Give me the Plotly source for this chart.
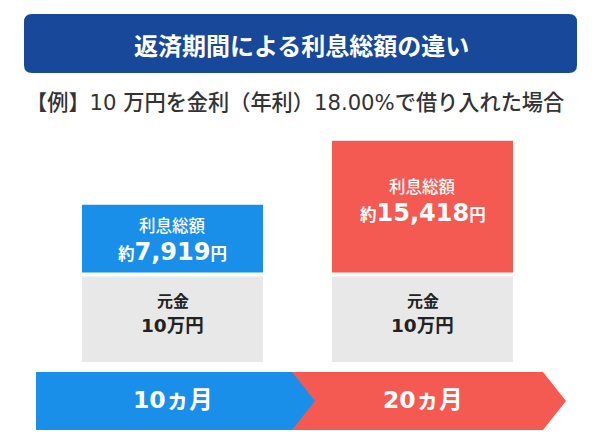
import plotly.graph_objects as go

# ---- data ----
cases = ["10ヵ月", "20ヵ月"]
interest_yen = [7919, 15418]          # 利息総額
interest_labels = ["7,919", "15,418"]
principal_label = "10万円"            # 元金
principal_display = [10000, 10000]    # illustrative height of the principal block
title_text = "返済期間による利息総額の違い"
subtitle_text = "【例】10 万円を金利（年利）18.00%で借り入れた場合"

# ---- style ----
W, H = 600, 436
FONT = "Noto Sans CJK JP"
MIX = "DejaVu Sans, Noto Sans CJK JP"
BANNER = "#17489a"
BLUE = "#1a8fea"
RED = "#f55a52"
GRAY = "#e8e8e8"
DARK = "#222222"
colors = [BLUE, RED]

YEN_PER_PX = 117
ZERO_PX = 362
GAP = 4 * YEN_PER_PX

def X(px):
    return px / W

def Y(py):
    return 1 - py / H

fig = go.Figure()
xs = list(range(len(cases)))
bar_w = 181 / 250

fig.add_trace(go.Bar(x=xs, y=principal_display, base=[0] * len(xs), width=bar_w,
                     marker=dict(color=GRAY, line=dict(width=0)), hoverinfo="skip"))
bases = [p + GAP for p in principal_display]
fig.add_trace(go.Bar(x=xs, y=interest_yen, base=bases, width=bar_w,
                     marker=dict(color=colors, line=dict(width=0)), hoverinfo="skip"))

shapes = []
# banner
x0, x1, y0, y1, r = 24, 577, 14, 73, 8
path = (f"M {X(x0+r)},{Y(y0)} L {X(x1-r)},{Y(y0)} Q {X(x1)},{Y(y0)} {X(x1)},{Y(y0+r)} "
        f"L {X(x1)},{Y(y1-r)} Q {X(x1)},{Y(y1)} {X(x1-r)},{Y(y1)} "
        f"L {X(x0+r)},{Y(y1)} Q {X(x0)},{Y(y1)} {X(x0)},{Y(y1-r)} "
        f"L {X(x0)},{Y(y0+r)} Q {X(x0)},{Y(y0)} {X(x0+r)},{Y(y0)} Z")
shapes.append(dict(type="path", xref="paper", yref="paper", path=path,
                   fillcolor=BANNER, line=dict(width=0), layer="below"))

# arrows (red first, blue on top)
def poly(pts):
    return "M " + " L ".join(f"{X(a)},{Y(b)}" for a, b in pts) + " Z"

shapes.append(dict(type="path", xref="paper", yref="paper",
                   path=poly([(292, 372), (543, 372), (566, 401), (543, 430), (292, 430)]),
                   fillcolor=RED, line=dict(width=0)))
shapes.append(dict(type="path", xref="paper", yref="paper",
                   path=poly([(36, 372), (292, 372), (315, 401), (292, 430), (36, 430)]),
                   fillcolor=BLUE, line=dict(width=0)))

def A(text, x, y, xref, yref, size, color, yshift=0, weight=None, family=FONT):
    f = dict(family=family, size=size, color=color)
    if weight:
        f["weight"] = weight
    return dict(text=text, x=x, y=y, xref=xref, yref=yref, yshift=yshift,
                xanchor="center", yanchor="middle", showarrow=False, font=f)

ann = []
ann.append(A(f"<b>{title_text}</b>", X(301), Y(44), "paper", "paper", 24, "white"))
ann.append(A(subtitle_text, X(295), Y(103), "paper", "paper", 21.2, "#333333", weight=500,
             family=MIX))

inter_shift = [(14, -13), (21, -6)]
for i in xs:
    c = bases[i] + interest_yen[i] / 2
    s1, s2 = inter_shift[i]
    ann.append(A("利息総額", i, c, "x", "y", 16.5, "white", yshift=s1, weight=500))
    ann.append(A(f"<b>約<span style='font-size:24px'>{interest_labels[i]}</span>円</b>",
                 i, c, "x", "y", 16.5, "white", yshift=s2, family=MIX))
    cg = principal_display[i] / 2
    ann.append(A("<b>元金</b>", i, cg, "x", "y", 16, DARK, yshift=19))
    ann.append(A(f"<b>{principal_label}</b>", i, cg, "x", "y", 18.5, DARK, yshift=-6,
                 family=MIX))
    ann.append(A(f"<b>{cases[i]}</b>", i, Y(400), "x", "paper", 23.5, "white", family=MIX))

fig.update_layout(
    width=W, height=H, margin=dict(l=0, r=0, t=0, b=0),
    paper_bgcolor="white", plot_bgcolor="white",
    barmode="overlay", showlegend=False,
    xaxis=dict(range=[-172.5 / 250, (W - 172.5) / 250], visible=False, fixedrange=True),
    yaxis=dict(range=[-(H - ZERO_PX) * YEN_PER_PX, ZERO_PX * YEN_PER_PX], visible=False,
               fixedrange=True),
    shapes=shapes, annotations=ann,
)
fig.write_html("out.html", config={"displayModeBar": False})
